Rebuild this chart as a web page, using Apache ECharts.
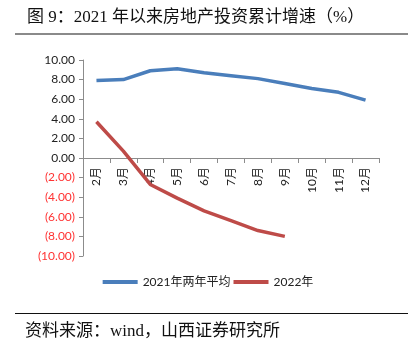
<!DOCTYPE html>
<html><head><meta charset="utf-8">
<script src="https://cdn.jsdelivr.net/npm/echarts@6/dist/echarts.min.js"></script>
<style>html,body{margin:0;padding:0;background:#fff}#c{width:416px;height:355px}</style>
</head><body><div id="c"></div>
<script>
const categories = ['2月','3月','4月','5月','6月','7月','8月','9月','10月','11月','12月'];
const avg2021 = [7.9, 8.0, 8.9, 9.1, 8.7, 8.4, 8.1, 7.6, 7.1, 6.7, 5.9];
const y2022 = [3.7, 0.7, -2.7, -4.1, -5.4, -6.4, -7.4, -8.0];
const seriesNames = ['2021年两年平均', '2022年'];
const titleText = '图 9：2021 年以来房地产投资累计增速（%）';
const sourceText = '资料来源：wind，山西证券研究所';

const chart = echarts.init(document.getElementById('c'), null, {renderer: 'canvas'});
const F = "Lato, 'Noto Sans CJK SC', sans-serif";
const FS = "'Liberation Serif', 'Noto Sans CJK SC', serif";
const gridTop = 60, gridBottom = 99, H = 355;
const yMin = -10, yMax = 10;
// place x axis on the zero line (offset from grid bottom)
const plotH = H - gridTop - gridBottom;
const zeroOffset = -plotH * (0 - yMin) / (yMax - yMin);
chart.setOption({
  animation: false,
  backgroundColor: '#fff',
  grid: {left: 83, right: 37, top: gridTop, bottom: gridBottom, containLabel: false},
  legend: {
    bottom: 62, left: 'center', itemWidth: 35, itemHeight: 4, itemGap: 3,
    textStyle: {fontFamily: F, fontSize: 12, color: '#222'},
    data: seriesNames.map(n => ({name: n, icon: 'rect'}))
  },
  xAxis: {
    type: 'category', data: categories, boundaryGap: true,
    offset: zeroOffset,
    axisLine: {onZero: false, lineStyle: {color: '#8c8c8c', width: 1}},
    axisTick: {show: true, length: 5, lineStyle: {color: '#8c8c8c'}},
    axisLabel: {rotate: 90, margin: 9, fontFamily: F, fontSize: 12, color: '#222', interval: 0}
  },
  yAxis: {
    type: 'value', min: yMin, max: yMax, interval: 2,
    splitLine: {show: false},
    axisLine: {show: true, lineStyle: {color: '#8c8c8c'}},
    axisTick: {show: true, length: 4, lineStyle: {color: '#8c8c8c'}},
    axisLabel: {
      margin: 8, fontFamily: F, fontSize: 12,
      formatter: v => v < 0 ? '(' + Math.abs(v).toFixed(2) + ')' : v.toFixed(2),
      color: v => (+v < 0 ? '#ff3333' : '#222')
    }
  },
  series: [
    {name: seriesNames[0], type: 'line', data: avg2021, symbol: 'none', z: 3,
     lineStyle: {color: '#4a7ebb', width: 3.5}, itemStyle: {color: '#4a7ebb'}},
    {name: seriesNames[1], type: 'line', data: y2022, symbol: 'none', z: 3,
     lineStyle: {color: '#be4b48', width: 3.5}, itemStyle: {color: '#be4b48'}}
  ],
  graphic: [
    {type: 'text', left: 27, top: 9, style: {text: titleText, font: "17px " + FS, fill: '#111'}},
    {type: 'line', shape: {x1: 15, y1: 34, x2: 408, y2: 34}, style: {stroke: '#8a8a8a', lineWidth: 2}},
    {type: 'line', shape: {x1: 15, y1: 313.5, x2: 408, y2: 313.5}, style: {stroke: '#111', lineWidth: 1}},
    {type: 'text', left: 25, top: 323, style: {text: sourceText, font: "17px " + FS, fill: '#111'}}
  ]
});
</script></body></html>
